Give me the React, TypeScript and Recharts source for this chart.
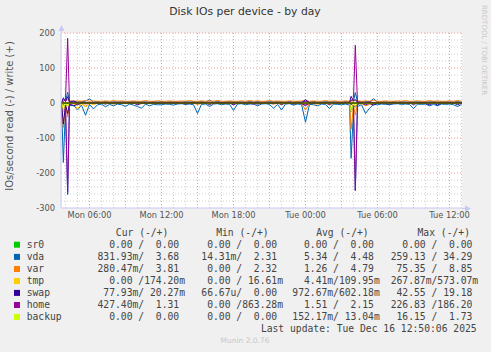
import React from 'react'
import { LineChart, Line, XAxis, YAxis, CartesianGrid, ReferenceLine } from 'recharts'

// sample times, hours since Mon 00:00
const TIMES = [
  3.67, 3.82, 4.0, 4.18, 4.33, 4.67, 5.0, 5.33, 5.67, 6.0,
  6.33, 6.67, 7.0, 7.33, 7.67, 8.0, 8.33, 8.67, 9.0, 9.33,
  9.67, 10.0, 10.33, 10.67, 11.0, 11.33, 11.67, 12.0, 12.33, 12.67,
  13.0, 13.33, 13.67, 14.0, 14.33, 14.67, 15.0, 15.33, 15.67, 16.0,
  16.33, 16.67, 17.0, 17.33, 17.67, 18.0, 18.33, 18.67, 19.0, 19.33,
  19.67, 20.0, 20.33, 20.67, 21.0, 21.33, 21.67, 22.0, 22.33, 22.67,
  23.0, 23.33, 23.67, 24.0, 24.33, 24.67, 25.0, 25.33, 25.67, 26.0,
  26.33, 26.67, 27.0, 27.33, 27.67, 27.8, 28.0, 28.15, 28.33, 28.67,
  29.0, 29.33, 29.67, 30.0, 30.33, 30.67, 31.0, 31.33, 31.67, 32.0,
  32.33, 32.67, 33.0, 33.33, 33.67, 34.0, 34.33, 34.67, 35.0, 35.33,
  35.67, 36.0, 36.33, 36.67, 37.0,
]

// reads are drawn below zero, writes above
const SR0_R = [
  0, 0, 0, 0, 0, 0, 0, 0, 0, 0, 0, 0, 0, 0, 0, 0, 0, 0, 0, 0,
  0, 0, 0, 0, 0, 0, 0, 0, 0, 0, 0, 0, 0, 0, 0, 0, 0, 0, 0, 0,
  0, 0, 0, 0, 0, 0, 0, 0, 0, 0, 0, 0, 0, 0, 0, 0, 0, 0, 0, 0,
  0, 0, 0, 0, 0, 0, 0, 0, 0, 0, 0, 0, 0, 0, 0, 0, 0, 0, 0, 0,
  0, 0, 0, 0, 0, 0, 0, 0, 0, 0, 0, 0, 0, 0, 0, 0, 0, 0, 0, 0,
  0, 0, 0, 0, 0,
]
const SR0_W = SR0_R

const VDA_R = [
  5, 170, 15, 262, 8, 6, 20, 6, 35, 4,
  17, 5, 3, 11, 4, 8, 3, 5, 10, 3,
  6, 10, 15, 3, 8, 4, 5, 5, 3, 4,
  6, 3, 2, 4, 3, 5, 30, 4, 3, 10,
  3, 2, 5, 3, 4, 21, 3, 2, 5, 3,
  3, 8, 3, 2, 4, 15, 4, 20, 3, 2,
  6, 3, 4, 55, 4, 5, 8, 3, 4, 16,
  3, 4, 5, 3, 6, 158, 20, 250, 10, 5,
  30, 15, 4, 5, 3, 4, 5, 3, 2, 4,
  3, 4, 16, 3, 4, 3, 8, 4, 8, 3,
  4, 3, 5, 10, 4,
]
const VDA_W = [
  4, 10, 5, 31, 6, 4, 3, 4, 5, 12,
  3, 4, 3, 4, 3, 3, 4, 3, 4, 3,
  4, 3, 4, 3, 3, 4, 3, 4, 3, 3,
  4, 3, 3, 4, 3, 4, 3, 4, 3, 8,
  3, 4, 3, 3, 4, 3, 4, 3, 3, 4,
  3, 4, 3, 3, 4, 3, 4, 3, 3, 4,
  3, 4, 3, 6, 3, 4, 3, 3, 4, 3,
  4, 3, 3, 4, 3, 8, 6, 30, 4, 3,
  4, 3, 12, 3, 4, 3, 3, 4, 3, 4,
  3, 3, 4, 3, 4, 3, 3, 4, 3, 3,
  4, 3, 3, 4, 3,
]

const VAR_R = [
  1, 70, 5, 40, 2, 1, 6, 1, 10, 1,
  3, 1, 1, 2, 1, 3, 1, 1, 2, 1,
  1, 3, 2, 1, 1, 2, 1, 1, 1, 2,
  1, 1, 1, 2, 1, 1, 4, 1, 1, 3,
  1, 1, 2, 1, 1, 4, 1, 1, 2, 1,
  1, 2, 1, 1, 1, 3, 1, 4, 1, 1,
  2, 1, 1, 20, 1, 2, 3, 1, 1, 4,
  1, 1, 2, 1, 1, 75, 8, 35, 2, 1,
  8, 4, 2, 1, 1, 2, 1, 1, 1, 1,
  1, 1, 3, 1, 1, 1, 2, 1, 2, 1,
  1, 1, 1, 2, 1,
]
const VAR_W = [
  5, 8, 6, 10, 6, 5, 6, 5, 7, 5,
  6, 5, 5, 6, 5, 7, 5, 6, 5, 5,
  6, 5, 5, 7, 5, 5, 6, 5, 5, 6,
  5, 5, 6, 5, 7, 5, 5, 6, 5, 6,
  5, 7, 5, 5, 6, 5, 5, 6, 5, 7,
  5, 6, 5, 5, 7, 5, 6, 5, 5, 6,
  5, 5, 6, 7, 5, 6, 5, 5, 7, 5,
  6, 5, 5, 6, 5, 6, 5, 8, 6, 5,
  6, 5, 7, 5, 5, 6, 5, 5, 6, 5,
  7, 5, 5, 6, 5, 5, 7, 5, 6, 5,
  5, 6, 5, 7, 5,
]

const TMP_R = [
  0, 25, 2, 10, 0, 1, 18, 0, 12, 0,
  5, 0, 0, 1, 0, 0, 0, 0, 1, 0,
  0, 0, 1, 0, 0, 0, 0, 0, 0, 0,
  0, 0, 0, 0, 0, 0, 1, 0, 0, 0,
  0, 0, 0, 0, 0, 1, 0, 0, 0, 0,
  0, 0, 0, 0, 0, 0, 0, 1, 0, 0,
  0, 0, 0, 4, 0, 0, 0, 0, 0, 0,
  0, 0, 0, 0, 0, 15, 2, 8, 0, 0,
  1, 0, 0, 0, 0, 0, 0, 0, 0, 0,
  0, 0, 0, 0, 0, 0, 0, 0, 0, 0,
  0, 0, 0, 0, 0,
]
const TMP_W = [
  0.2, 0.5, 0.2, 2, 0.2, 0.1, 0.2, 0.1, 0.2, 0.1,
  0.1, 0.2, 0.1, 0.1, 0.2, 0.1, 0.1, 0.2, 0.1, 0.1,
  0.2, 0.1, 0.1, 0.2, 0.1, 0.1, 0.2, 0.1, 0.1, 0.2,
  0.1, 0.1, 0.2, 0.1, 0.1, 0.2, 0.1, 0.1, 0.2, 0.1,
  0.1, 0.2, 0.1, 0.1, 0.2, 0.1, 0.1, 0.2, 0.1, 0.1,
  0.2, 0.1, 0.1, 0.2, 0.1, 0.1, 0.2, 0.1, 0.1, 0.2,
  0.1, 0.1, 0.2, 0.5, 0.1, 0.2, 0.1, 0.1, 0.2, 0.1,
  0.1, 0.2, 0.1, 0.1, 0.2, 0.5, 0.3, 2, 0.2, 0.1,
  0.1, 0.2, 0.1, 0.1, 0.2, 0.1, 0.1, 0.2, 0.1, 0.1,
  0.2, 0.1, 0.1, 0.2, 0.1, 0.1, 0.2, 0.1, 0.1, 0.2,
  0.1, 0.1, 0.2, 0.1, 0.1,
]

const SWAP_R = [
  1, 60, 5, 30, 3, 8, 4, 1, 2, 1,
  1, 0, 0, 3, 0, 1, 0, 0, 1, 0,
  0, 5, 1, 0, 0, 1, 0, 0, 0, 1,
  0, 0, 0, 3, 0, 0, 2, 0, 0, 4,
  0, 1, 0, 0, 0, 5, 0, 0, 1, 0,
  0, 3, 0, 0, 1, 2, 0, 4, 0, 0,
  3, 0, 1, 8, 0, 1, 0, 0, 0, 4,
  0, 1, 0, 0, 1, 25, 5, 12, 1, 0,
  5, 1, 6, 0, 0, 1, 3, 0, 0, 0,
  1, 0, 4, 0, 0, 1, 5, 0, 6, 0,
  0, 1, 0, 5, 0,
]
const SWAP_W = [
  0, 15, 4, 18, 2, 6, 1, 0, 1, 0,
  0, 0, 0, 1, 0, 0, 0, 0, 0, 0,
  0, 1, 0, 0, 0, 0, 0, 0, 0, 0,
  0, 0, 0, 0, 0, 0, 1, 0, 0, 2,
  0, 0, 0, 0, 0, 1, 0, 0, 0, 0,
  0, 0, 0, 0, 0, 0, 0, 1, 0, 0,
  0, 0, 0, 10, 0, 0, 0, 0, 0, 1,
  0, 0, 0, 0, 2, 19, 6, 10, 1, 0,
  2, 3, 1, 0, 0, 0, 1, 0, 0, 0,
  0, 0, 1, 0, 0, 0, 2, 0, 1, 0,
  0, 0, 0, 1, 0,
]

const HOME_R = [
  1, 5, 10, 255, 5, 1, 1, 1, 2, 1,
  1, 0.5, 1, 0.5, 1, 0.5, 1, 0.5, 1, 0.5,
  1, 0.5, 1, 0.5, 1, 0.5, 1, 0.5, 1, 0.5,
  1, 0.5, 1, 0.5, 1, 0.5, 1, 0.5, 1, 0.5,
  1, 0.5, 1, 0.5, 1, 0.5, 1, 0.5, 1, 0.5,
  3, 0.5, 1, 0.5, 1, 0.5, 1, 0.5, 1, 0.5,
  1, 0.5, 1, 4, 1, 0.5, 1, 0.5, 1, 0.5,
  1, 0.5, 1, 0.5, 1, 3, 10, 250, 4, 1,
  1, 0.5, 1, 0.5, 1, 0.5, 1, 0.5, 1, 0.5,
  1, 0.5, 1, 0.5, 1, 0.5, 1, 0.5, 1, 0.5,
  1, 0.5, 1, 0.5, 1,
]
const HOME_W = [
  2, 4, 10, 185, 3, 2, 1, 2, 1, 2,
  1, 2, 1, 2, 1, 2, 1, 2, 1, 2,
  1, 2, 1, 2, 1, 2, 1, 2, 1, 2,
  1, 2, 1, 2, 1, 2, 1, 2, 1, 2,
  1, 2, 1, 2, 1, 2, 1, 2, 1, 2,
  1, 2, 1, 2, 1, 2, 1, 2, 1, 2,
  1, 2, 1, 5, 1, 2, 1, 2, 1, 2,
  1, 2, 1, 2, 1, 6, 15, 165, 3, 2,
  1, 2, 1, 2, 1, 2, 1, 2, 1, 2,
  1, 2, 1, 2, 1, 2, 1, 2, 1, 2,
  1, 2, 1, 2, 1,
]

const BACKUP_R = [
  0, 15, 2, 8, 0, 0, 0, 0, 0, 0,
  0, 0, 0, 0, 0, 0, 0, 0, 0, 0,
  0, 0, 0, 0, 0, 0, 0, 0, 0, 0,
  0, 0, 0, 0, 0, 0, 0, 0, 0, 0,
  0, 0, 0, 0, 0, 0, 0, 0, 0, 0,
  0, 0, 0, 0, 0, 0, 0, 0, 0, 0,
  0, 0, 0, 0, 0, 0, 0, 0, 0, 0,
  0, 0, 0, 0, 0, 25, 3, 10, 0, 0,
  0, 0, 0, 0, 0, 0, 0, 0, 0, 0,
  0, 0, 0, 0, 0, 0, 0, 0, 0, 0,
  0, 0, 0, 0, 0,
]
const BACKUP_W = [
  0, 0, 0, 0, 0, 0, 0, 0, 0, 0,
  0, 0, 0, 0, 0, 0, 0, 0, 0, 0,
  0, 0, 0, 0, 0, 0, 0, 0, 0, 0,
  0, 0, 0, 0, 0, 0, 0, 0, 0, 0,
  0, 0, 0, 0, 0, 0, 0, 0, 0, 0,
  0, 0, 0, 0, 0, 0, 0, 0, 0, 0,
  0, 0, 0, 0, 0, 0, 0, 0, 0, 0,
  0, 0, 0, 0, 0, 2, 0, 0, 0, 0,
  0, 0, 0, 0, 0, 0, 0, 0, 0, 0,
  0, 0, 0, 0, 0, 0, 0, 0, 0, 0,
  0, 0, 0, 0, 0,
]

const NAMES = ['sr0', 'vda', 'var', 'tmp', 'swap', 'home', 'backup']
const COLORS = ['#00cc00', '#0066b3', '#ff8000', '#ffcc00', '#330099', '#990099', '#ccff00']
const READS = [SR0_R, VDA_R, VAR_R, TMP_R, SWAP_R, HOME_R, BACKUP_R]
const WRITES = [SR0_W, VDA_W, VAR_W, TMP_W, SWAP_W, HOME_W, BACKUP_W]

const CUR = ['  0.00 /  0.00 ', '831.93m/  3.68 ', '280.47m/  3.81 ', '  0.00 /174.20m', ' 77.93m/ 20.27m', '427.40m/  1.31 ', '  0.00 /  0.00 ']
const MIN = ['  0.00 /  0.00 ', ' 14.31m/  2.31 ', '  0.00 /  2.32 ', '  0.00 / 16.61m', ' 66.67u/  0.00 ', '  0.00 /863.28m', '  0.00 /  0.00 ']
const AVG = ['  0.00 /  0.00 ', '  5.34 /  4.48 ', '  1.26 /  4.79 ', '  4.41m/109.95m', '972.67m/602.18m', '  1.51 /  2.15 ', '152.17m/ 13.04m']
const MAX = ['  0.00 /  0.00 ', '259.13 / 34.29 ', ' 75.35 /  8.85 ', '267.87m/573.07m', ' 42.55 / 19.18 ', '226.83 /186.20 ', ' 16.15 /  1.73 ']

const X_TICKS = [6, 12, 18, 24, 30, 36]
const X_LABELS = ['Mon 06:00', 'Mon 12:00', 'Mon 18:00', 'Tue 00:00', 'Tue 06:00', 'Tue 12:00']
const Y_TICKS = [-300, -200, -100, 0, 100, 200]

const data = TIMES.map((t, i) => {
  const row: Record<string, number> = { t }
  NAMES.forEach((n, k) => {
    row[n + '_r'] = -READS[k][i]
    row[n + '_w'] = WRITES[k][i]
  })
  return row
})

const minorX: number[] = []
const majorX: number[] = []
for (let h = 4; h <= 37; h++) (h % 3 === 0 ? majorX : minorX).push(h)
const minorY: number[] = []
for (let v = -280; v < 200; v += 20) if (v % 100 !== 0) minorY.push(v)
const majorY = [-200, -100, 0, 100, 200]

const SANS = 'DejaVu Sans, sans-serif'
const MONO = 'DejaVu Sans Mono, monospace'
const ROW_Y = [244.3, 256.5, 268.6, 280.7, 292.5, 304.6, 316.5]
const COL_X = [97.5, 195.5, 292.3, 390.7]

export default function App() {
  return (
    <div style={{ position: 'absolute', left: 0, top: 0, width: 491, height: 352, background: '#f0f0f0', overflow: 'hidden' }}>
      <LineChart width={491} height={352} data={data} margin={{ top: 33, right: 29, bottom: 124, left: 21 }}>
        <CartesianGrid fill="#ffffff" stroke="none" horizontal={false} vertical={false} />
        {minorX.map((h) => (
          <ReferenceLine key={'mx' + h} x={h} stroke="#cfcfcf" strokeDasharray="1 2" />
        ))}
        {minorY.map((v) => (
          <ReferenceLine key={'my' + v} y={v} stroke="#cfcfcf" strokeDasharray="1 2" />
        ))}
        {majorX.map((h) => (
          <ReferenceLine key={'Mx' + h} x={h} stroke="#f09a9a" strokeDasharray="1 2" />
        ))}
        {majorY.map((v) => (
          <ReferenceLine key={'My' + v} y={v} stroke="#f09a9a" strokeDasharray="1 2" />
        ))}
        <XAxis
          type="number"
          dataKey="t"
          domain={[3.625, 37.04]}
          allowDataOverflow
          ticks={X_TICKS}
          tickFormatter={(v) => X_LABELS[X_TICKS.indexOf(v)]}
          height={20}
          tickSize={0}
          tickMargin={4}
          axisLine={{ stroke: '#c8c8f4' }}
          tickLine={false}
          tick={{ fill: '#555', fontSize: 8.3, fontFamily: SANS }}
        />
        <YAxis
          type="number"
          domain={[-300, 200]}
          ticks={Y_TICKS}
          allowDataOverflow
          width={40}
          tickSize={0}
          tickMargin={6}
          axisLine={{ stroke: '#c8c8f4' }}
          tickLine={false}
          tick={{ fill: '#555', fontSize: 8.3, fontFamily: SANS }}
        />
        {NAMES.map((n, k) => (
          <Line key={n + '_r'} dataKey={n + '_r'} type="linear" stroke={COLORS[k]} strokeWidth={1} dot={false} isAnimationActive={false} />
        ))}
        {NAMES.map((n, k) => (
          <Line key={n + '_w'} dataKey={n + '_w'} type="linear" stroke={COLORS[k]} strokeWidth={1} dot={false} isAnimationActive={false} />
        ))}
        <ReferenceLine y={0} stroke="#000000" strokeWidth={1} />
      </LineChart>

      <svg width={491} height={352} style={{ position: 'absolute', left: 0, top: 0, pointerEvents: 'none' }}>
        <text x={245} y={15} textAnchor="middle" fontFamily={SANS} fontSize={10.8} fill="#333">
          Disk IOs per device - by day
        </text>
        <text transform="translate(12.5,116) rotate(-90)" textAnchor="middle" fontFamily={SANS} fontSize={10} fill="#555">
          IOs/second read (-) / write (+)
        </text>
        <text transform="translate(482,5) rotate(90)" textAnchor="start" fontFamily={SANS} fontSize={7} fill="#c8c8c8">
          RRDTOOL / TOBI OETIKER
        </text>
        <line x1={462} y1={208.5} x2={466} y2={208.5} stroke="#c8c8f4" />
        <polygon points="465,205.5 471,208.5 465,211.5" fill="#c8c8f4" />
        <line x1={61.5} y1={33} x2={61.5} y2={30} stroke="#c8c8f4" />
        <polygon points="58.5,31 61.5,25 64.5,31" fill="#c8c8f4" />

        <g fontFamily={MONO} fontSize={9.7} fill="#444">
          <text x={168.3} y={236} textAnchor="end">Cur (-/+)</text>
          <text x={268.7} y={236} textAnchor="end">Min (-/+)</text>
          <text x={368.7} y={236} textAnchor="end">Avg (-/+)</text>
          <text x={470} y={236} textAnchor="end">Max (-/+)</text>
          {NAMES.map((n, k) => (
            <g key={n}>
              <rect x={14} y={ROW_Y[k] - 2.6} width={6} height={6} fill={COLORS[k]} />
              <text x={26.7} y={ROW_Y[k] + 3.5}>{n}</text>
              {[CUR[k], MIN[k], AVG[k], MAX[k]].map((s, c) => (
                <text key={c} x={COL_X[c]} y={ROW_Y[k] + 3.5} xmlSpace="preserve" style={{ whiteSpace: 'pre' }}>
                  {s}
                </text>
              ))}
            </g>
          ))}
          <text x={476.7} y={331.8} textAnchor="end">Last update: Tue Dec 16 12:50:06 2025</text>
        </g>
        <text x={245} y={343} textAnchor="middle" fontFamily={SANS} fontSize={7.5} fill="#c8c8c8">
          Munin 2.0.76
        </text>
      </svg>
    </div>
  )
}
